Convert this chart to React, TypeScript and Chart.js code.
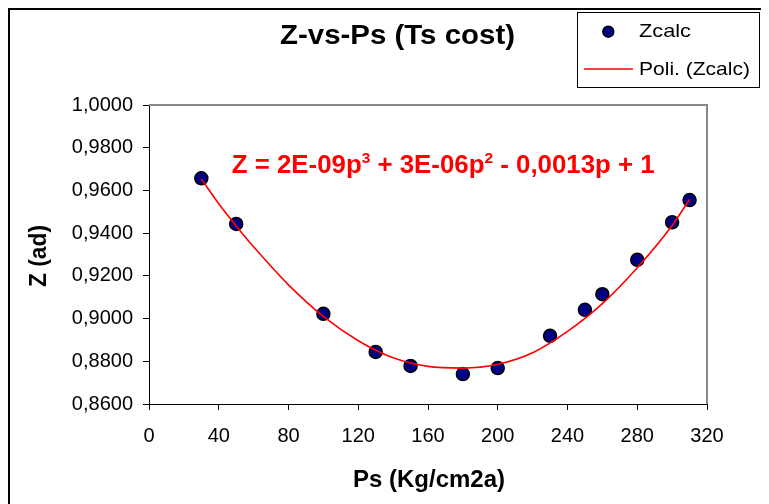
import React, { useEffect, useRef } from 'react';
import { Chart, registerables } from 'chart.js';

Chart.register(...registerables);

// Measured points (Ps in Kg/cm2a, Z adimensional)
const pressures = [30, 50, 100, 130, 150, 180, 200, 230, 250, 260, 280, 300, 310];
const zcalc = [0.9657, 0.9443, 0.9022, 0.8844, 0.8778, 0.874, 0.8768, 0.8919, 0.9041, 0.9114, 0.9275, 0.9451, 0.9555];

// Polynomial trend line
const trendP = [30, 40, 50, 60, 80, 100, 120, 140, 160, 180, 200, 220, 240, 260, 280, 300, 310];
const trendZ = [0.9654, 0.9538, 0.9434, 0.9336, 0.9158, 0.901, 0.8896, 0.8816, 0.8776, 0.8768, 0.8786, 0.884, 0.894, 0.907, 0.9238, 0.9436, 0.9558];

// Tick labels
const xTicks = [0, 40, 80, 120, 160, 200, 240, 280, 320];
const yTicks = [0.86, 0.88, 0.9, 0.92, 0.94, 0.96, 0.98, 1.0];

const chartTitle = 'Z-vs-Ps (Ts cost)';
const xTitle = 'Ps (Kg/cm2a)';
const yTitle = 'Z (ad)';
const legendLabels = ['Zcalc', 'Poli. (Zcalc)'];
const equationParts = [
  { t: 'Z = 2E-09p', sup: false },
  { t: '3', sup: true },
  { t: ' + 3E-06p', sup: false },
  { t: '2', sup: true },
  { t: ' - 0,0013p + 1', sup: false },
];

const FONT = "'Liberation Sans', Arial, sans-serif";
const NAVY = '#000080';
const RED = '#FF0000';

function fitText(ctx: CanvasRenderingContext2D, text: string, x: number, y: number, font: string, width: number, align: CanvasTextAlign) {
  ctx.save();
  ctx.font = font;
  const w = ctx.measureText(text).width;
  const s = width / w;
  ctx.translate(x, y);
  ctx.scale(s, 1);
  ctx.textAlign = align;
  ctx.textBaseline = 'alphabetic';
  ctx.fillText(text, 0, 0);
  ctx.restore();
}

const overlay = {
  id: 'overlay',
  afterDraw(chart: any) {
    const ctx: CanvasRenderingContext2D = chart.ctx;
    const { left, right, top, bottom } = chart.chartArea;
    ctx.save();
    // plot area border (top / right)
    ctx.strokeStyle = '#888888';
    ctx.lineWidth = 2;
    ctx.beginPath();
    ctx.moveTo(left, top);
    ctx.lineTo(right, top);
    ctx.lineTo(right, bottom);
    ctx.stroke();

    // outer frame
    ctx.fillStyle = '#000';
    ctx.fillRect(0, 0, chart.width, 2);
    ctx.fillRect(0, 0, 2, chart.height);

    // title
    ctx.fillStyle = '#000';
    fitText(ctx, chartTitle, 389.5, 36, `bold 27px ${FONT}`, 235, 'center');

    // axis titles
    fitText(ctx, xTitle, 421, 479, `bold 24px ${FONT}`, 152, 'center');
    ctx.save();
    ctx.translate(37.5, 248);
    ctx.rotate(-Math.PI / 2);
    fitText(ctx, yTitle, 0, 0, `bold 23px ${FONT}`, 62, 'center');
    ctx.restore();

    // equation
    ctx.save();
    ctx.fillStyle = RED;
    const mainFont = `bold 25px ${FONT}`;
    const supFont = `bold 15px ${FONT}`;
    let total = 0;
    for (const p of equationParts) {
      ctx.font = p.sup ? supFont : mainFont;
      total += ctx.measureText(p.t).width;
    }
    const s = 423 / total;
    ctx.translate(223.7, 164.7);
    ctx.scale(s, 1);
    ctx.textAlign = 'left';
    ctx.textBaseline = 'alphabetic';
    let cx = 0;
    for (const p of equationParts) {
      ctx.font = p.sup ? supFont : mainFont;
      ctx.fillText(p.t, cx, p.sup ? -10 : 0);
      cx += ctx.measureText(p.t).width;
    }
    ctx.restore();

    // legend
    ctx.strokeStyle = '#000';
    ctx.lineWidth = 1;
    ctx.strokeRect(569.5, 4.5, 182, 75);
    ctx.beginPath();
    ctx.arc(600.3, 23.7, 5.5, 0, Math.PI * 2);
    ctx.fillStyle = NAVY;
    ctx.fill();
    ctx.lineWidth = 1.5;
    ctx.strokeStyle = '#000';
    ctx.stroke();
    ctx.strokeStyle = RED;
    ctx.lineWidth = 1.5;
    ctx.beginPath();
    ctx.moveTo(576, 61);
    ctx.lineTo(625, 61);
    ctx.stroke();
    ctx.fillStyle = '#000';
    fitText(ctx, legendLabels[0], 631, 29.3, `19px ${FONT}`, 52, 'left');
    fitText(ctx, legendLabels[1], 631, 66.5, `19px ${FONT}`, 111, 'left');

    ctx.restore();
  },
};

export default function App() {
  const ref = useRef<HTMLCanvasElement | null>(null);

  useEffect(() => {
    if (!ref.current) return;
    const chart = new Chart(ref.current, {
      type: 'scatter',
      data: {
        datasets: [
          {
            label: legendLabels[1],
            data: trendP.map((p, i) => ({ x: p, y: trendZ[i] })),
            showLine: true,
            borderColor: RED,
            borderWidth: 1.6,
            pointRadius: 0,
            cubicInterpolationMode: 'monotone',
            fill: false,
          },
          {
            label: legendLabels[0],
            data: pressures.map((p, i) => ({ x: p, y: zcalc[i] })),
            pointRadius: 6.5,
            pointBackgroundColor: NAVY,
            pointBorderColor: '#000',
            pointBorderWidth: 1.5,
            showLine: false,
          },
        ],
      },
      options: {
        animation: false,
        responsive: false,
        events: [],
        layout: { padding: { left: 0, right: 62, top: 97, bottom: 0 } },
        plugins: { legend: { display: false }, title: { display: false }, tooltip: { enabled: false } },
        scales: {
          x: {
            type: 'linear',
            min: 0,
            max: 320,
            afterFit: (s: any) => { s.height = 100; },
            afterBuildTicks: (s: any) => { s.ticks = xTicks.map((v) => ({ value: v })); },
            grid: { display: true, drawOnChartArea: false, drawTicks: true, tickLength: 6, color: '#000', lineWidth: 1 },
            border: { display: true, color: '#000', width: 1 },
            ticks: {
              color: '#000',
              font: { family: FONT, size: 20 },
              padding: 14,
              maxRotation: 0,
              autoSkip: false,
              callback: (v: any) => String(v),
            },
          },
          y: {
            type: 'linear',
            min: 0.86,
            max: 1.0,
            afterFit: (s: any) => { s.width = 141; },
            afterBuildTicks: (s: any) => { s.ticks = yTicks.map((v) => ({ value: v })); },
            grid: { display: true, drawOnChartArea: false, drawTicks: true, tickLength: 6, color: '#000', lineWidth: 1 },
            border: { display: true, color: '#000', width: 1 },
            ticks: {
              color: '#000',
              font: { family: FONT, size: 20 },
              padding: 10,
              autoSkip: false,
              callback: (v: any) => Number(v).toFixed(4).replace('.', ','),
            },
          },
        },
      },
      plugins: [overlay],
    });
    return () => chart.destroy();
  }, []);

  return <canvas ref={ref} width={761} height={496} style={{ display: 'block', width: '761px', height: '496px' }} />;
}
